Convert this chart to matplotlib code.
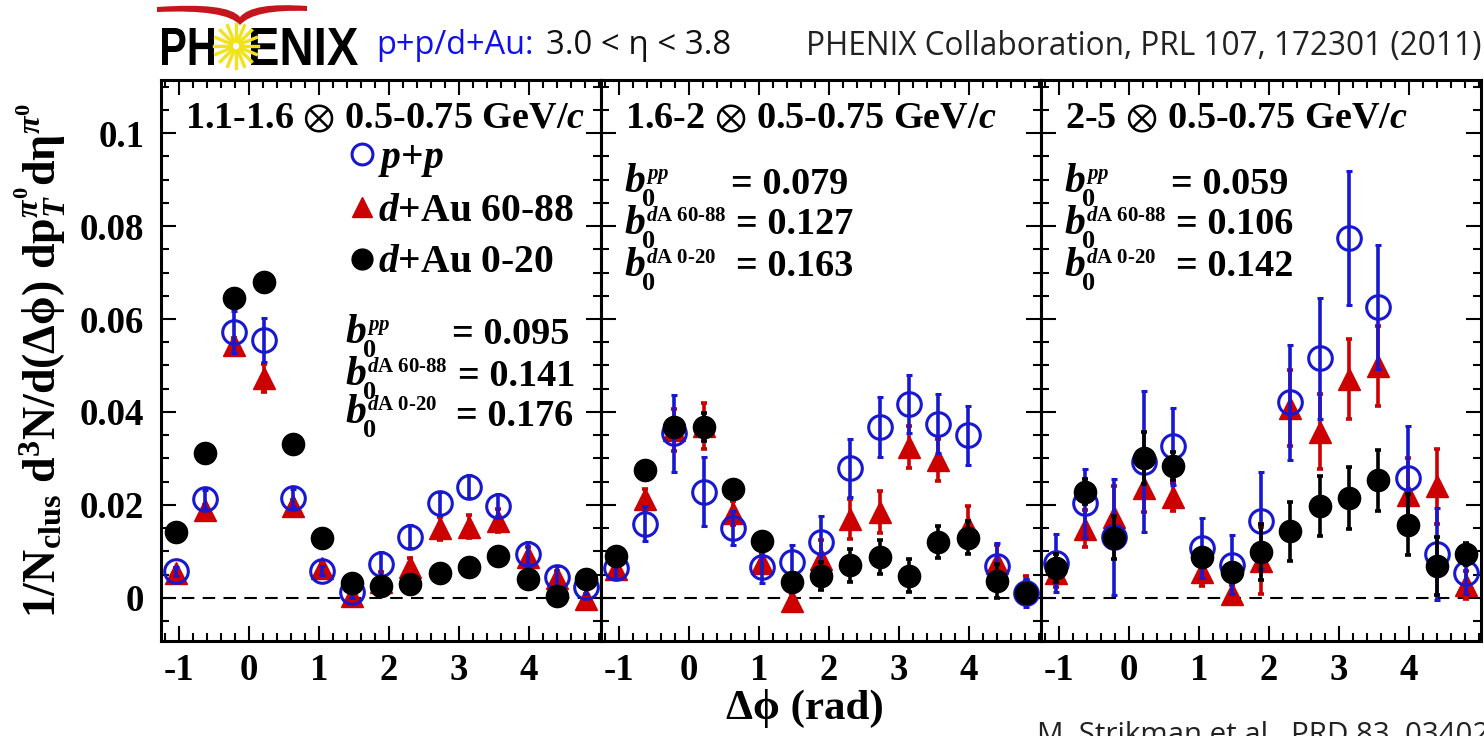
import numpy as np
import matplotlib
matplotlib.use("Agg")
from matplotlib import pyplot as plt
from matplotlib import ticker
from matplotlib.lines import Line2D
from matplotlib.patches import PathPatch, Circle
from matplotlib.path import Path
from matplotlib.textpath import TextPath
from matplotlib.font_manager import FontProperties
from matplotlib.transforms import Affine2D, IdentityTransform

plt.rcParams['axes.unicode_minus'] = False
plt.rcParams['mathtext.fontset'] = 'custom'
plt.rcParams['mathtext.rm'] = 'Liberation Serif:bold'
plt.rcParams['mathtext.bf'] = 'Liberation Serif:bold'
plt.rcParams['mathtext.it'] = 'Liberation Serif:bold:italic'
plt.rcParams['mathtext.sf'] = 'Liberation Serif:bold'
plt.rcParams['mathtext.fallback'] = 'stix'

# data
dphi = [-1.047, -0.628, -0.209, 0.209, 0.628, 1.047, 1.466, 1.885,
        2.304, 2.723, 3.142, 3.560, 3.979, 4.398, 4.817]
xticks = [-1, 0, 1, 2, 3, 4]

titles = ["1.1-1.6", "1.6-2", "2-5"]
assoc = "0.5-0.75"
b_pp = ["0.095", "0.079", "0.059"]
b_60 = ["0.141", "0.127", "0.106"]
b_020 = ["0.176", "0.163", "0.142"]

# panel 1: 1.1-1.6 GeV/c
pp1 = [0.0057, 0.0213, 0.0572, 0.0555, 0.0215, 0.0059, 0.0012, 0.0073, 0.0132, 0.0204, 0.0239, 0.0198, 0.0095, 0.0046, 0.0024]
pp1_err = [0.0010, 0.0020, 0.0045, 0.0047, 0.0020, 0.0010, 0.0012, 0.0025, 0.0025, 0.0025, 0.0025, 0.0025, 0.0025, 0.0022, 0.0015]
dA60_1 = [0.0054, 0.0189, 0.0544, 0.0473, 0.0198, 0.0064, 0.0004, 0.0035, 0.0067, 0.0150, 0.0153, 0.0166, 0.0089, 0.0042, -0.0002]
dA60_1_err = [0.0010, 0.0012, 0.0015, 0.0030, 0.0012, 0.0015, 0.0010, 0.0020, 0.0020, 0.0025, 0.0025, 0.0025, 0.0020, 0.0015, 0.0010]
dA0_1 = [0.0141, 0.0311, 0.0645, 0.0679, 0.0331, 0.0128, 0.0032, 0.0026, 0.0030, 0.0054, 0.0067, 0.0091, 0.0040, 0.0004, 0.0040]
dA0_1_err = [0.0008, 0.0010, 0.0012, 0.0012, 0.0010, 0.0008, 0.0008, 0.0008, 0.0008, 0.0008, 0.0008, 0.0008, 0.0008, 0.0008, 0.0008]

# panel 2: 1.6-2 GeV/c
pp2 = [0.0065, 0.0160, 0.0354, 0.0229, 0.0150, 0.0066, 0.0078, 0.0120, 0.0280, 0.0368, 0.0417, 0.0375, 0.0350, 0.0069, 0.0010]
pp2_err = [0.0025, 0.0037, 0.0083, 0.0074, 0.0037, 0.0034, 0.0035, 0.0056, 0.0062, 0.0064, 0.0063, 0.0063, 0.0063, 0.0050, 0.0030]
dA60_2 = [0.0062, 0.0212, 0.0362, 0.0370, 0.0183, 0.0075, -0.0006, 0.0084, 0.0169, 0.0185, 0.0324, 0.0297, 0.0152, 0.0075, 0.0027]
dA60_2_err = [0.0015, 0.0023, 0.0045, 0.0050, 0.0025, 0.0020, 0.0015, 0.0040, 0.0043, 0.0045, 0.0045, 0.0045, 0.0045, 0.0040, 0.0020]
dA0_2 = [0.0091, 0.0276, 0.0367, 0.0367, 0.0234, 0.0122, 0.0034, 0.0047, 0.0070, 0.0088, 0.0048, 0.0120, 0.0130, 0.0037, 0.0011]
dA0_2_err = [0.0012, 0.0012, 0.0020, 0.0030, 0.0012, 0.0012, 0.0015, 0.0030, 0.0035, 0.0037, 0.0035, 0.0035, 0.0036, 0.0036, 0.0020]

# panel 3: 2-5 GeV/c
pp3 = [0.0075, 0.0204, 0.0131, 0.0293, 0.0326, 0.0107, 0.0072, 0.0166, 0.0421, 0.0516, 0.0775, 0.0626, 0.0258, 0.0095, 0.0053]
pp3_err = [0.0062, 0.0074, 0.0124, 0.0152, 0.0083, 0.0064, 0.0064, 0.0104, 0.0124, 0.0130, 0.0144, 0.0133, 0.0112, 0.0099, 0.0045]
dA60_3 = [0.0053, 0.0149, 0.0174, 0.0236, 0.0217, 0.0055, 0.0008, 0.0080, 0.0408, 0.0358, 0.0472, 0.0499, 0.0221, 0.0240, 0.0027]
dA60_3_err = [0.0030, 0.0040, 0.0067, 0.0050, 0.0030, 0.0030, 0.0020, 0.0072, 0.0082, 0.0081, 0.0086, 0.0086, 0.0081, 0.0081, 0.0030]
dA0_3 = [0.0065, 0.0229, 0.0130, 0.0301, 0.0283, 0.0088, 0.0055, 0.0099, 0.0143, 0.0198, 0.0215, 0.0253, 0.0158, 0.0069, 0.0095]
dA0_3_err = [0.0030, 0.0027, 0.0046, 0.0055, 0.0030, 0.0020, 0.0020, 0.0060, 0.0063, 0.0065, 0.0066, 0.0066, 0.0066, 0.0063, 0.0023]

panels = [(pp1, pp1_err, dA60_1, dA60_1_err, dA0_1, dA0_1_err),
          (pp2, pp2_err, dA60_2, dA60_2_err, dA0_2, dA0_2_err),
          (pp3, pp3_err, dA60_3, dA60_3_err, dA0_3, dA0_3_err)]

BLUE = '#1818d0'
RED = '#cc0000'
SERIF = ['Liberation Serif', 'DejaVu Serif']

W, H = 1484, 736
fig = plt.figure(figsize=(W / 100, H / 100), dpi=100)


def fx(px):
    return px / W


def fy(py):
    return 1 - py / H


# axes layout in pixels
ax_left = [161, 601, 1041]
ax_w, ax_top, ax_bot = 440, 80, 641
axes = []
for i in range(3):
    ax = fig.add_axes([fx(ax_left[i]), fy(ax_bot), fx(ax_w), (ax_bot - ax_top) / H])
    axes.append(ax)

for i, ax in enumerate(axes):
    pp, pp_e, a60, a60_e, a0, a0_e = panels[i]
    ax.axhline(0, color='black', lw=1.5, ls=(0, (6, 4)), zorder=1)
    ax.errorbar(dphi, a60, yerr=a60_e, fmt='^', color=RED, ms=16, mec=RED,
                elinewidth=2.6, capsize=2, capthick=2.6, zorder=3, clip_on=False)
    ax.errorbar(dphi, pp, yerr=pp_e, fmt='o', color=BLUE, mfc='none', mec=BLUE, ms=17,
                mew=2.2, elinewidth=2.6, capsize=2, capthick=2.6, zorder=4, clip_on=False)
    ax.errorbar(dphi, a0, yerr=a0_e, fmt='o', color='black', ms=16,
                elinewidth=2.6, capsize=2, capthick=2.6, zorder=5, clip_on=False)

    ax.set_xlim(-1.257, 5.027)
    ax.set_ylim(-0.00925, 0.1114)
    ax.xaxis.set_major_locator(ticker.FixedLocator(xticks))
    ax.xaxis.set_minor_locator(ticker.MultipleLocator(0.2))
    ax.yaxis.set_major_locator(ticker.MultipleLocator(0.02))
    ax.yaxis.set_minor_locator(ticker.MultipleLocator(0.005))
    ax.xaxis.set_major_formatter(ticker.FuncFormatter(lambda v, p: f"{v:g}"))
    ax.yaxis.set_major_formatter(ticker.FuncFormatter(lambda v, p: f"{v:g}"))
    ax.tick_params(which='both', direction='in', top=True, right=True, width=1.5)
    ax.tick_params(which='major', length=11)
    ax.tick_params(which='minor', length=5.5)
    ax.tick_params(axis='x', which='major', pad=9)
    ax.tick_params(axis='y', which='major', pad=12)
    for lab in ax.get_xticklabels() + ax.get_yticklabels():
        lab.set_fontfamily(SERIF)
        lab.set_fontweight('bold')
        lab.set_fontsize(26.5)
    for sp in ax.spines.values():
        sp.set_linewidth(2.2)
    if i > 0:
        ax.tick_params(axis='y', labelleft=False)

    # panel title
    ax.text(24 / ax_w, (ax_bot - 118) / (ax_bot - ax_top),
            titles[i] + r" $\otimes$ " + assoc + " GeV/$c$",
            transform=ax.transAxes, ha='left', va='center', fontsize=27.5,
            fontfamily=SERIF, fontweight='bold')

# b0 values: (b left, [= left per row], [= centre y per row], [b baseline per row])
b_pos = [(345, [452, 458, 456], [335, 377, 417], [343, 385, 423]),
         (624, [731, 736, 736], [184, 225, 267], [192, 234, 276]),
         (1064, [1171, 1176, 1176], [184, 225, 267], [192, 234, 276])]
sups = [r"$pp$", r"$d$A 60-88", r"$d$A 0-20"]
for i, (bx, exs, eys, bys) in enumerate(b_pos):
    vals = [b_pp[i], b_60[i], b_020[i]]
    for sup, v, ex, ey, by in zip(sups, vals, exs, eys, bys):
        fig.text(fx(bx), fy(by), r"$b$", ha='left', va='baseline', fontsize=30,
                 fontfamily=SERIF, fontweight='bold')
        fig.text(fx(bx + 18), fy(by + 14), "0", ha='left', va='baseline', fontsize=19,
                 fontfamily=SERIF, fontweight='bold')
        fig.text(fx(bx + 22), fy(by - 13), sup, ha='left', va='baseline', fontsize=15,
                 fontfamily=SERIF, fontweight='bold')
        fig.text(fx(ex), fy(ey), "= " + v, ha='left', va='center', fontsize=27.5,
                 fontfamily=SERIF, fontweight='bold')

# legend in first panel
handles = [Line2D([], [], ls='none', marker='o', mfc='none', mec=BLUE, mew=2.2, ms=15),
           Line2D([], [], ls='none', marker='^', color=RED, ms=15),
           Line2D([], [], ls='none', marker='o', color='black', ms=15)]
leg = axes[0].legend(handles, [r"$p$+$p$", r"$d$+Au 60-88", r"$d$+Au 0-20"],
                     loc='upper left', bbox_to_anchor=((350 - 161) / ax_w, (ax_bot - 140) / (ax_bot - ax_top)),
                     frameon=False, handlelength=0.6, handletextpad=0.12, labelspacing=0.36,
                     borderpad=0, borderaxespad=0,
                     prop={'family': SERIF, 'weight': 'bold', 'size': 28.5})

fig.text(fx(40), fy(360), r"1/N$_{\mathrm{clus}}$ d$^{3}$N/d(Δϕ) dp$_{T}^{\pi^{0}}$dη$^{\pi^{0}}$",
         rotation=90, ha='center', va='center', fontsize=33, fontfamily=SERIF, fontweight='bold')
fig.text(fx(805), fy(708), "Δϕ (rad)", ha='center', va='center', fontsize=31,
         fontfamily=SERIF, fontweight='bold')

# header / footer texts (fit to measured width)
renderer = fig.canvas.get_renderer()


def fit_text(x, y, s, width, **kw):
    t = fig.text(fx(x), fy(y), s, ha='left', **kw)
    bb = t.get_window_extent(renderer)
    t.set_fontsize(t.get_fontsize() * width / bb.width)
    return t


SANS = ['Open Sans', 'DejaVu Sans']
fit_text(376, 45, "p+p/d+Au:", 158, va='center', color='#1010ee', fontfamily=SANS, fontsize=22)
fit_text(546, 45, "3.0 < η < 3.8", 184, va='center', color='#111111', fontfamily=SANS, fontsize=22)
fit_text(806, 46, "PHENIX Collaboration, PRL 107, 172301 (2011)", 674, va='center',
         color='#222222', fontfamily=SANS, fontsize=22)
fit_text(1037, 721, "M. Strikman et al., PRD 83, 034029", 470, va='top',
         color='#222222', fontfamily=SANS, fontsize=22)


# PHENIX logo (drawn in pixel coordinates)
def logo_text(s, x0, x1, ytop, ybot):
    tp = TextPath((0, 0), s, size=50, prop=FontProperties(family='Liberation Sans', weight='bold'))
    bb = tp.get_extents()
    tr = (Affine2D().translate(-bb.x0, -bb.y0)
          .scale((x1 - x0) / bb.width, (ybot - ytop) / bb.height)
          .translate(x0, H - ybot))
    fig.add_artist(PathPatch(tp, transform=tr, facecolor='black', lw=0))


logo_text("PH", 162, 214, 28, 65)
logo_text("ENIX", 251, 358, 28, 65)

# sun
cx, cy = 236, H - 46
for a in np.linspace(0, 2 * np.pi, 16, endpoint=False):
    fig.add_artist(Line2D([cx + 5 * np.cos(a), cx + 22 * np.cos(a)],
                          [cy + 5 * np.sin(a), cy + 22 * np.sin(a)],
                          transform=IdentityTransform(), color='#f2e21c', lw=2.4))
fig.add_artist(Circle((cx, cy), 5, transform=IdentityTransform(), facecolor='white',
                      edgecolor='#f2e21c', lw=2))

# red wing
wing_px = [(157, 7), (228, 2), (240, 17), (252, 2), (307, 6),
           (307, 11), (254, 9), (240, 25), (226, 9), (157, 12), (157, 7)]
wing = Path([(x, H - y) for x, y in wing_px],
            [Path.MOVETO, Path.CURVE3, Path.CURVE3, Path.CURVE3, Path.CURVE3,
             Path.LINETO, Path.CURVE3, Path.CURVE3, Path.CURVE3, Path.CURVE3, Path.CLOSEPOLY])
fig.add_artist(PathPatch(wing, transform=IdentityTransform(), facecolor='#c4161c', lw=0))

fig.savefig("out.png", dpi=100)
